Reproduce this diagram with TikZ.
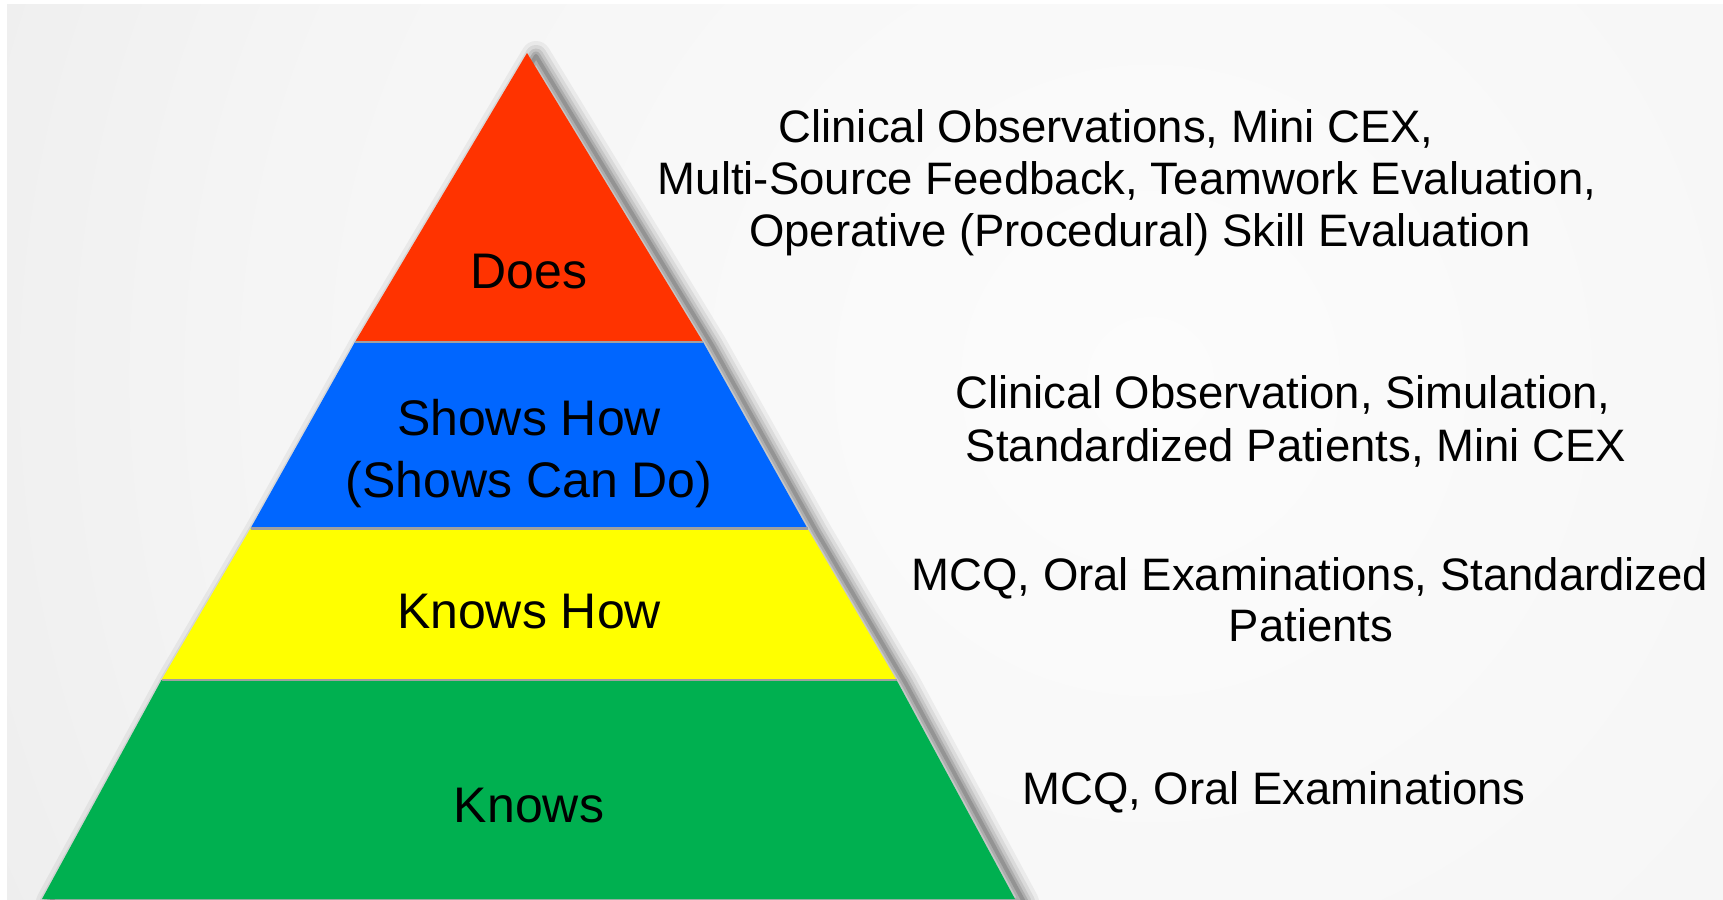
\documentclass[tikz,border=0pt]{standalone}
\usepackage{fontspec}
\setmainfont{Liberation Sans}

\definecolor{bgin}{HTML}{FCFCFC}
\definecolor{bgmid}{HTML}{F5F5F5}
\definecolor{bgout}{HTML}{E3E3E3}
\definecolor{doesred}{HTML}{FF3300}
\definecolor{showsblue}{HTML}{0066FF}
\definecolor{knowshowyellow}{HTML}{FFFF00}
\definecolor{knowsgreen}{HTML}{00B050}
\definecolor{seamgray}{HTML}{A0A0A0}

% soft radial glow for the slide background
\pgfdeclareradialshading{bgglow}{\pgfpoint{0bp}{0bp}}{%
  color(0bp)=(bgin); color(17bp)=(bgmid); color(36bp)=(bgout); color(75bp)=(bgout)}

\tikzset{
  lvl/.style={font=\fontsize{50}{62}\selectfont, anchor=base, inner sep=0pt, text=black},
  note/.style={font=\fontsize{45.5}{52}\selectfont, anchor=base, inner sep=0pt, text=black},
  seam/.style={draw=seamgray, line width=2.5pt},
}

\begin{document}
\begin{tikzpicture}[x=1pt, y=-1pt]
  \useasboundingbox (0,0) rectangle (1723,899);
  \clip (0,0) rectangle (1723,899);
  \fill[white] (0,0) rectangle (1723,899);

  % background
  \begin{scope}
    \clip (7,5) rectangle (1723,899);
    \fill[shading=bgglow] (-150,-920) rectangle (2450,1680);
  \end{scope}

  % pyramid corner points
  \coordinate (apex) at (527,53);
  \coordinate (l1) at (355,342);   \coordinate (r1) at (703,342);
  \coordinate (l2) at (250.5,528.5); \coordinate (r2) at (807.5,528.5);
  \coordinate (l3) at (161.5,680); \coordinate (r3) at (896.5,680);
  \coordinate (l4) at (42,899);    \coordinate (r4) at (1015,899);

  % blurred drop shadow, built from stacked translucent strokes
  \begin{scope}[transform canvas={xshift=9pt, yshift=-3pt}]
    \foreach \w/\o in {30/0.05, 22/0.07, 15/0.09, 9/0.12, 4/0.15}
      \draw[black, line width=\w pt, opacity=\o, line join=round]
        (apex) -- (r1) -- (r2) -- (r3) -- (r4) -- (l4) -- (l3) -- (l2) -- (l1) -- cycle;
  \end{scope}

  % pyramid bands
  \fill[doesred] (apex) -- (r1) -- (l1) -- cycle;
  \fill[showsblue] (l1) -- (r1) -- (r2) -- (l2) -- cycle;
  \fill[knowshowyellow] (l2) -- (r2) -- (r3) -- (l3) -- cycle;
  \fill[knowsgreen] (l3) -- (r3) -- (r4) -- (l4) -- cycle;

  % seams between bands
  \draw[seam] (l1) -- (r1);
  \draw[seam] (l2) -- (r2);
  \draw[seam] (l3) -- (r3);

  % band labels
  \node[lvl] (does) at (529,288) {Does};
  \node[lvl] (shows1) at (529,435) {Shows How};
  \node[lvl] (shows2) at (529,497) {(Shows Can Do)};
  \node[lvl] (knowshow) at (529,628) {Knows How};
  \node[lvl] (knows) at (529,822) {Knows};

  % assessment methods
  \node[note] (a1) at (1106,142) {Clinical Observations, Mini CEX,};
  \node[note] (a2) at (1127,194) {Multi-Source Feedback, Teamwork Evaluation,};
  \node[note] (a3) at (1140,246) {Operative (Procedural) Skill Evaluation};
  \node[note] (b1) at (1283,408) {Clinical Observation, Simulation,};
  \node[note] (b2) at (1296,461) {Standardized Patients, Mini CEX};
  \node[note] (c1) at (1310,590) {MCQ, Oral Examinations, Standardized};
  \node[note] (c2) at (1311,641) {Patients};
  \node[note] (d1) at (1274,804) {MCQ, Oral Examinations};
\end{tikzpicture}
\end{document}
